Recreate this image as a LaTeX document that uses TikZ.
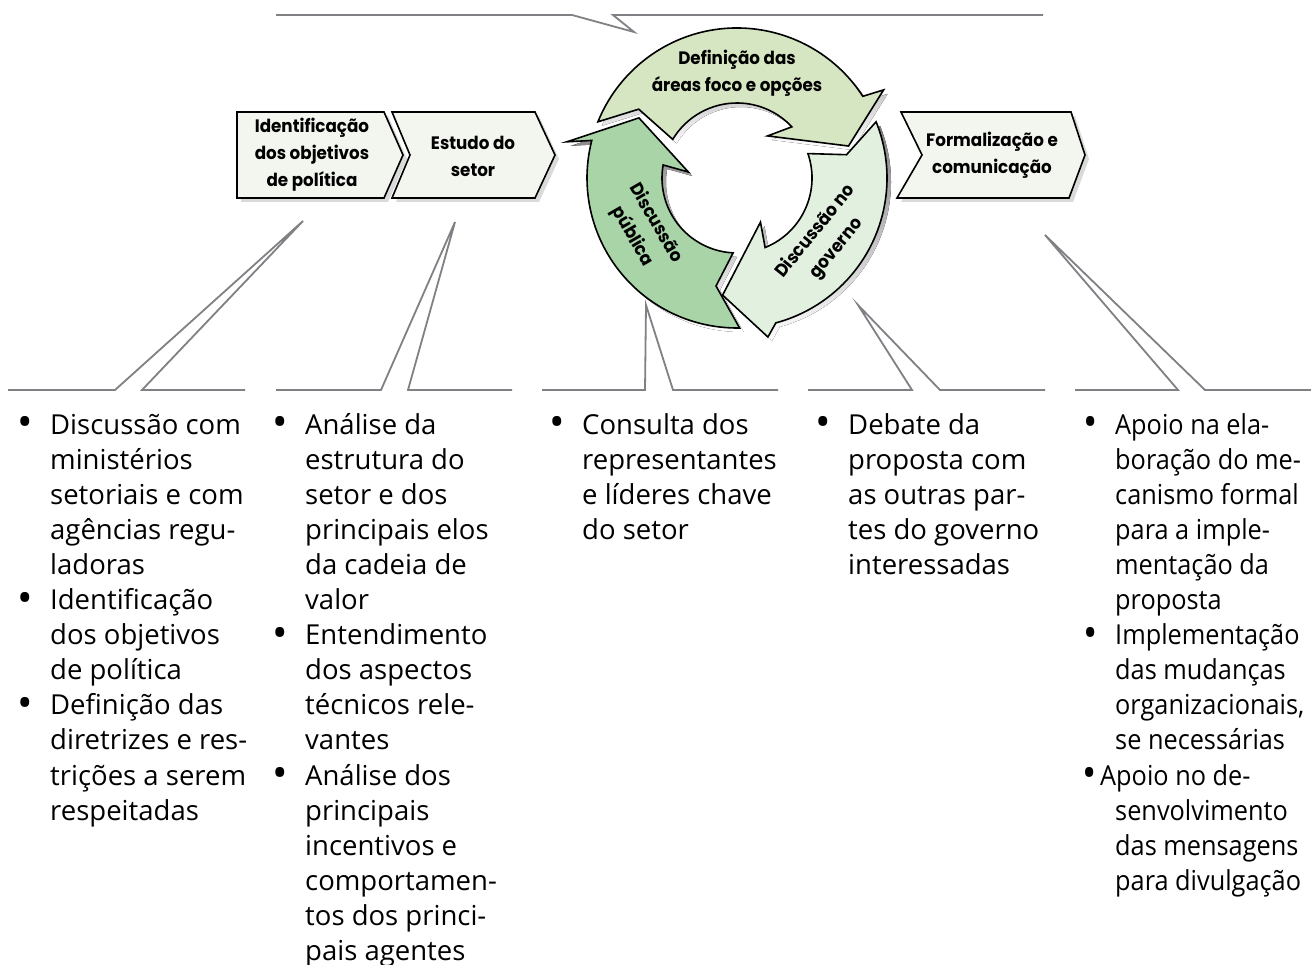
\documentclass[tikz,border=0pt]{standalone}
\usepackage{fontspec}
\setmainfont{Open Sans}
\newfontfamily\narrowfont{Open Sans}[FakeStretch=0.92]
\newfontfamily\boxfont{Poppins Bold}[FakeStretch=0.93]
\definecolor{linegray}{HTML}{808085}
\definecolor{boxfill}{HTML}{F3F6EE}
\definecolor{topfill}{HTML}{D6E5C2}
\definecolor{govfill}{HTML}{E2F0E0}
\definecolor{pubfill}{HTML}{A9D4A8}
\definecolor{shade}{HTML}{DADADA}
\newcommand\bul{\leavevmode\llap{\raisebox{-2.5pt}{\scalebox{1.5}{•}}\hspace{17pt}}}
\tikzset{
  callout/.style={draw=linegray, line width=1.8pt, line join=miter},
  stepbox/.style={draw=black, line width=1.6pt, fill=boxfill, line join=miter},
  boxshadow/.style={fill=shade},
  cyclearrow/.style={draw=black, line width=1.6pt, line join=miter},
  lbl/.style={font=\boxfont\fontsize{18}{27}\selectfont, align=center, inner sep=0pt},
  bodytext/.style={inner sep=0pt, anchor=base west, font=\fontsize{27.5}{35.1}\selectfont}
}
\begin{document}
\begin{tikzpicture}[x=1pt, y=1pt]
\useasboundingbox (0,0) rectangle (1311,-965);
\fill[white] (0,0) rectangle (1311,-965);

% top callout
\coordinate (tc1) at (276,-15);
\coordinate (tc2) at (572,-15);
\coordinate (tctip) at (634,-32);
\coordinate (tc3) at (613,-15);
\coordinate (tc4) at (1043,-15);
\draw[callout] (tc1) -- (tc2) -- (tctip) -- (tc3) -- (tc4);

% step boxes
\def\boxA{(237,-112) -- (384,-112) -- (403,-155) -- (384,-198) -- (237,-198) -- cycle}
\def\boxB{(392,-112) -- (535,-112) -- (555,-155) -- (535,-198) -- (392,-198) -- (410,-155) -- cycle}
\def\boxC{(901,-112) -- (1071,-112) -- (1085,-155) -- (1069,-198) -- (897,-198) -- (922,-155) -- cycle}
\fill[boxshadow, xshift=4pt, yshift=-4pt] \boxA;
\fill[boxshadow, xshift=4pt, yshift=-4pt] \boxB;
\fill[boxshadow, xshift=4pt, yshift=-4pt] \boxC;
\draw[stepbox] \boxA;
\draw[stepbox] \boxB;
\draw[stepbox] \boxC;
\node[lbl] (b1) at (312,-155) {Identificação\\dos objetivos\\de política};
\node[lbl] (b2) at (473,-156) {Estudo do\\setor};
\node[lbl] (b3) at (992,-155) {Formalização e\\comunicação};

% cycle arrows
\def\arrTop{(158:150) -- (145:120) -- (149:75) arc[start angle=149, end angle=43, radius=75] -- (54:52) -- (16:116) -- (31:171) -- (33:150) arc[start angle=33, end angle=158, radius=150] -- cycle}
\def\arrGov{(22:150) -- (12:112) -- (19:75) arc[start angle=19, end angle=-68, radius=75] -- (-62:50) -- (-97:118) -- (-79:162) -- (-75:150) arc[start angle=-75, end angle=22, radius=150] -- cycle}
\def\arrPub{(-89:150) -- (-101:110) -- (-93:75) arc[start angle=-93, end angle=-190, radius=75] -- (-187:49) -- (-211.5:115) -- (-192:174) -- (-194.5:150) arc[start angle=-194.5, end angle=-89, radius=150] -- cycle}
\begin{scope}[shift={(741,-182)}]
  \fill[shade] \arrTop;
  \fill[shade] \arrGov;
  \fill[shade] \arrPub;
\end{scope}
\begin{scope}[shift={(737,-178)}]
  \draw[cyclearrow, fill=topfill] \arrTop;
  \draw[cyclearrow, fill=govfill] \arrGov;
  \draw[cyclearrow, fill=pubfill] \arrPub;
\end{scope}
\node[lbl] (tdef) at (737,-73) {Definição das\\áreas foco e opções};
\node[lbl, rotate=-60] (tpub) at (644,-230) {Discussão\\pública};
\node[lbl, rotate=51] (tgov) at (826,-240) {Discussão no\\governo};

% callouts to columns
\coordinate (p1) at (303,-221);
\coordinate (p2) at (455,-222);
\coordinate (p3) at (646,-305);
\coordinate (p4) at (858,-305);
\coordinate (p5) at (1045,-235);
\draw[callout] (8,-390) -- (115,-390) -- (p1) -- (142,-390) -- (245,-390);
\draw[callout] (276,-390) -- (381,-390) -- (p2) -- (408,-390) -- (512,-390);
\draw[callout] (542,-390) -- (645,-390) -- (p3) -- (673,-390) -- (778,-390);
\draw[callout] (808,-390) -- (912,-390) -- (p4) -- (940,-390) -- (1045,-390);
\draw[callout] (1075,-390) -- (1178,-390) -- (p5) -- (1205,-390) -- (1311,-390);

% text columns
\node[bodytext] (c1) at (50,-434) {\parbox[t]{250pt}{\bul Discussão com\\ministérios\\setoriais e com\\agências regu-\\ladoras\\\bul Identificação\\dos objetivos\\de política\\\bul Definição das\\diretrizes e res-\\trições a serem\\respeitadas}};
\node[bodytext] (c2) at (305,-434) {\parbox[t]{250pt}{\bul Análise da\\estrutura do\\setor e dos\\principais elos\\da cadeia de\\valor\\\bul Entendimento\\dos aspectos\\técnicos rele-\\vantes\\\bul Análise dos\\principais\\incentivos e\\comportamen-\\tos dos princi-\\pais agentes}};
\node[bodytext] (c3) at (582,-434) {\parbox[t]{250pt}{\bul Consulta dos\\representantes\\e líderes chave\\do setor}};
\node[bodytext] (c4) at (848,-434) {\parbox[t]{250pt}{\bul Debate da\\proposta com\\as outras par-\\tes do governo\\interessadas}};
\node[bodytext] (c5) at (1115,-434) {\parbox[t]{190pt}{\narrowfont\bul Apoio na ela-\\boração do me-\\canismo formal\\para a imple-\\mentação da\\proposta\\\bul Implementação\\das mudanças\\organizacionais,\\se necessárias\\\hspace*{-15pt}\llap{\raisebox{-2.5pt}{\scalebox{1.5}{•}}\hspace{3pt}}Apoio no de-\\senvolvimento\\das mensagens\\para divulgação}};
\end{tikzpicture}
\end{document}
